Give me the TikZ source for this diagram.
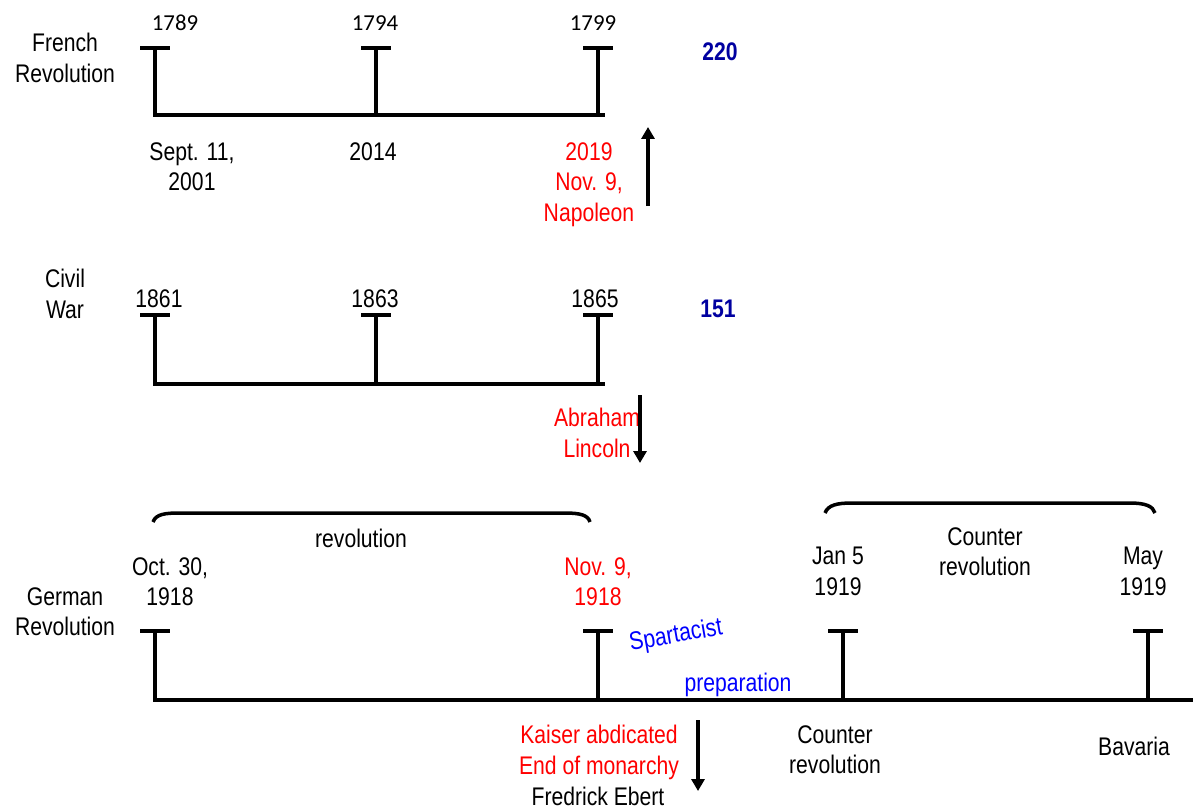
\documentclass[tikz,border=0pt]{standalone}
\usepackage{fontspec}
\setmainfont{Liberation Sans}[FakeStretch=0.83]
\newfontfamily\yearfont{Carlito}
\usetikzlibrary{arrows.meta}

\definecolor{numblue}{RGB}{0,0,160}
\definecolor{notered}{RGB}{255,0,0}
\definecolor{noteblue}{RGB}{0,0,255}

\tikzset{
	txt/.style = {anchor = north, align = center, inner sep = 0pt, font = \fontsize{14.5}{17.5}\selectfont},
	redtxt/.style = {txt, text = notered},
	bluetxt/.style = {txt, text = noteblue},
	yearsum/.style = {txt, text = numblue, font = \fontsize{14.5}{17.5}\selectfont\bfseries},
	topyear/.style = {txt, font = \fontsize{13}{15}\selectfont\yearfont},
	timeline/.style = {line width = 2.3pt},
	bracket/.style = {line width = 2pt},
	pointer/.style = {line width = 2.2pt, -{Triangle[length = 6.8pt, width = 7.4pt]}}
}

\begin{document}
\begin{tikzpicture}[x = 0.02cm, y = -0.02cm]
	
		\useasboundingbox (0, 0) rectangle (1195, 809);
	
		\draw[timeline] (153, 115) -- (605, 115);
		\draw[timeline] (155, 115) -- (155, 48) (140, 48) -- (170, 48);
		\draw[timeline] (376, 115) -- (376, 48) (361, 48) -- (391, 48);
		\draw[timeline] (598, 115) -- (598, 48) (583, 48) -- (613, 48);
		
		\node[txt] (frTitle) at (65, 33) {French\\Revolution};
		\node[topyear] (fr1789) at (175, 15) {1789};
		\node[topyear] (fr1794) at (375, 15) {1794};
		\node[topyear] (fr1799) at (593, 15) {1799};
		\node[yearsum] (frSum) at (720, 42) {220};
		
		\node[txt] (frSept) at (192, 142) {Sept. 11,\\2001};
		\node[txt] (fr2014) at (373, 142) {2014};
		\node[redtxt] (frNapoleon) at (589, 142) {2019\\Nov. 9,\\Napoleon};
		
		\coordinate (frTail) at (648, 206);
		\coordinate (frHead) at (648, 127);
		\draw[pointer] (frTail) -- (frHead);
		
		\draw[timeline] (153, 384) -- (605, 384);
		\draw[timeline] (155, 384) -- (155, 315) (140, 315) -- (170, 315);
		\draw[timeline] (376, 384) -- (376, 315) (361, 315) -- (391, 315);
		\draw[timeline] (598, 384) -- (598, 315) (583, 315) -- (613, 315);
		
		\node[txt] (cwTitle) at (65, 269) {Civil\\War};
		\node[txt] (cw1861) at (159, 289) {1861};
		\node[txt] (cw1863) at (375, 289) {1863};
		\node[txt] (cw1865) at (595, 289) {1865};
		\node[yearsum] (cwSum) at (718, 300) {151};
		
		\node[redtxt] (cwLincoln) at (597, 408) {Abraham\\Lincoln};
		\coordinate (cwTail) at (640, 395);
		\coordinate (cwHead) at (640, 463);
		\draw[pointer] (cwTail) -- (cwHead);
		
		\draw[bracket] (153, 522) .. controls (156, 514) and (165, 513) .. (180, 513) -- (565, 513) .. controls (580, 513) and (588, 515) .. (590, 522);
		\draw[bracket] (825, 513) .. controls (828, 505) and (837, 503) .. (852, 503) -- (1130, 503) .. controls (1145, 503) and (1153, 506) .. (1155, 513);
		
		\draw[timeline] (153, 700) -- (1193, 700);
		\draw[timeline] (155, 700) -- (155, 631) (140, 631) -- (170, 631);
		\draw[timeline] (598, 700) -- (598, 631) (583, 631) -- (613, 631);
		\draw[timeline] (843, 700) -- (843, 631) (828, 631) -- (858, 631);
		\draw[timeline] (1148, 700) -- (1148, 631) (1133, 631) -- (1163, 631);
		
		\node[txt] (grRevolution) at (361, 529) {revolution};
		\node[txt] (grOct) at (170, 557) {Oct. 30,\\1918};
		\node[redtxt] (grNov) at (598, 557) {Nov. 9,\\1918};
		\node[txt] (grTitle) at (65, 587) {German\\Revolution};
		\node[txt] (grJan) at (838, 547) {Jan 5\\1919};
		\node[txt] (grCounterTop) at (985, 527) {Counter\\revolution};
		\node[txt] (grMay) at (1143, 547) {May\\1919};
		
		\node[bluetxt, anchor = center, rotate = 10] (grSpartacist) at (676, 636) {Spartacist};
		\node[bluetxt, anchor = center] (grPreparation) at (738, 685) {preparation};
		
		\node[redtxt] (grKaiser) at (599, 725) {Kaiser abdicated\\End of monarchy};
		\node[txt] (grEbert) at (598, 787) {Fredrick Ebert};
		\coordinate (grTail) at (698, 720);
		\coordinate (grHead) at (698, 791);
		\draw[pointer] (grTail) -- (grHead);
		
		\node[txt] (grCounterLow) at (835, 725) {Counter\\revolution};
		\node[txt] (grBavaria) at (1134, 737) {Bavaria};
		
	\end{tikzpicture}
\end{document}
